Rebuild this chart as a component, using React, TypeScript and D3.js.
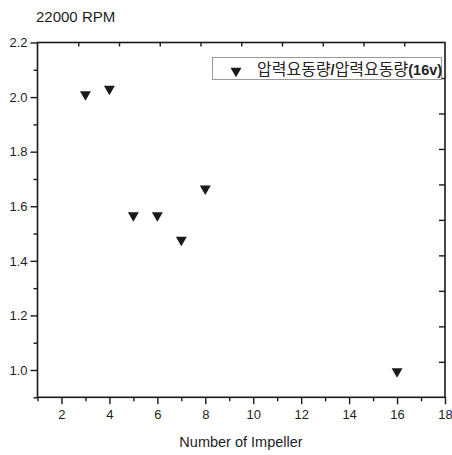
import React, { useEffect, useRef } from 'react';
import * as d3 from 'd3';

// impeller count vs. pressure fluctuation ratio (relative to 16 impellers)
const impellers = [3, 4, 5, 6, 7, 8, 16];
const ratios = [2.01, 2.03, 1.566, 1.566, 1.477, 1.664, 0.995];

const xMajorTicks = [2, 4, 6, 8, 10, 12, 14, 16, 18];
const xMinorTicks = [1, 3, 5, 7, 9, 11, 13, 15, 17];
const yMajorTicks = [1.0, 1.2, 1.4, 1.6, 1.8, 2.0, 2.2];
const yMinorTicks = [0.9, 1.1, 1.3, 1.5, 1.7, 1.9, 2.1];

const title = '22000 RPM';
const xTitle = 'Number of Impeller';
const legendKorean = '압력요동량';

const W = 452;
const H = 455;
const FONT = '"Liberation Sans", Arial, sans-serif';
const INK = '#1a1a1a';

const App = () => {
    const svgRef = useRef<SVGSVGElement>(null);

    useEffect(() => {
        const svg = d3.select(svgRef.current);
        svg.selectAll('*').remove();

        const left = 37.5, right = 445, top = 42.5, bottom = 397.3;

        const x = d3.scaleLinear().domain([1, 18]).range([left, right]);
        const y = d3.scaleLinear().domain([0.9, 2.2]).range([bottom, top]);
        // the top and right frames carry their own 10 even divisions
        const xTop = d3.scaleLinear().domain([0, 10]).range([left, right]);
        const yRight = d3.scaleLinear().domain([0, 10]).range([bottom, top]);

        const styleAxis = (g) => {
            g.select('.domain').remove();
            g.selectAll('line').attr('stroke', INK).attr('stroke-width', 1.4);
            g.selectAll('text')
                .attr('fill', '#1e1e1e')
                .style('font-family', FONT)
                .style('font-size', '13px');
        };

        // bottom axis
        svg.append('g')
            .attr('transform', `translate(0,${bottom})`)
            .call(d3.axisBottom(x).tickValues(xMajorTicks).tickSize(7).tickPadding(5).tickFormat(d3.format('d')))
            .call(styleAxis);
        svg.append('g')
            .attr('transform', `translate(0,${bottom})`)
            .call(d3.axisBottom(x).tickValues(xMinorTicks).tickSize(4).tickFormat(() => ''))
            .call(styleAxis);

        // left axis
        svg.append('g')
            .attr('transform', `translate(${left},0)`)
            .call(d3.axisLeft(y).tickValues(yMajorTicks).tickSize(7).tickPadding(3).tickFormat(d3.format('.1f')))
            .call(styleAxis);
        svg.append('g')
            .attr('transform', `translate(${left},0)`)
            .call(d3.axisLeft(y).tickValues(yMinorTicks).tickSize(4).tickFormat(() => ''))
            .call(styleAxis);

        // top axis, ticks inward
        svg.append('g')
            .attr('transform', `translate(0,${top})`)
            .call(d3.axisBottom(xTop).tickValues(d3.range(1, 10)).tickSize(4).tickFormat(() => ''))
            .call(styleAxis);

        // right axis, ticks inward
        svg.append('g')
            .attr('transform', `translate(${right},0)`)
            .call(d3.axisLeft(yRight).tickValues(d3.range(1, 10)).tickSize(6).tickFormat(() => ''))
            .call(styleAxis);

        // frame
        svg.append('rect')
            .attr('x', left)
            .attr('y', top)
            .attr('width', right - left)
            .attr('height', bottom - top)
            .attr('fill', 'none')
            .attr('stroke', INK)
            .attr('stroke-width', 1.6);

        // points
        const tri = d3.symbol().type(d3.symbolTriangle).size(52)();
        svg.append('g')
            .selectAll('path')
            .data(impellers.map((d, i) => ({ x: d, y: ratios[i] })))
            .enter()
            .append('path')
            .attr('d', tri)
            .attr('fill', INK)
            .attr('transform', d => `translate(${x(d.x)},${y(d.y)}) rotate(180)`);

        // legend
        const lg = svg.append('g');
        lg.append('rect')
            .attr('x', 212.5)
            .attr('y', 57.5)
            .attr('width', 229)
            .attr('height', 22)
            .attr('fill', '#fff')
            .attr('stroke', '#999')
            .attr('stroke-width', 1);
        lg.append('path')
            .attr('d', tri)
            .attr('fill', INK)
            .attr('transform', 'translate(236,71) rotate(180)');
        const lt = lg.append('text')
            .attr('x', 257)
            .attr('y', 74.5)
            .attr('fill', '#222');
        const kr = '"Noto Sans CJK KR", sans-serif';
        lt.append('tspan').style('font-family', kr).style('font-size', '16px').text(legendKorean);
        lt.append('tspan').style('font-family', FONT).style('font-size', '14.5px').style('font-weight', 'bold').text('/');
        lt.append('tspan').style('font-family', kr).style('font-size', '16px').text(legendKorean);
        lt.append('tspan').style('font-family', FONT).style('font-size', '14.5px').style('font-weight', 'bold').text('(16v)');

        // titles
        svg.append('text')
            .attr('x', 36)
            .attr('y', 22)
            .attr('fill', '#1e1e1e')
            .style('font-family', FONT)
            .style('font-size', '15px')
            .text(title);

        svg.append('text')
            .attr('x', 241)
            .attr('y', 447)
            .attr('text-anchor', 'middle')
            .attr('fill', '#1e1e1e')
            .style('font-family', FONT)
            .style('font-size', '14.5px')
            .text(xTitle);
    }, []);

    return (
        <svg
            ref={svgRef}
            width={W}
            height={H}
            style={{ position: 'absolute', left: 0, top: 0, background: '#fff' }}
        />
    );
};

export default App;
